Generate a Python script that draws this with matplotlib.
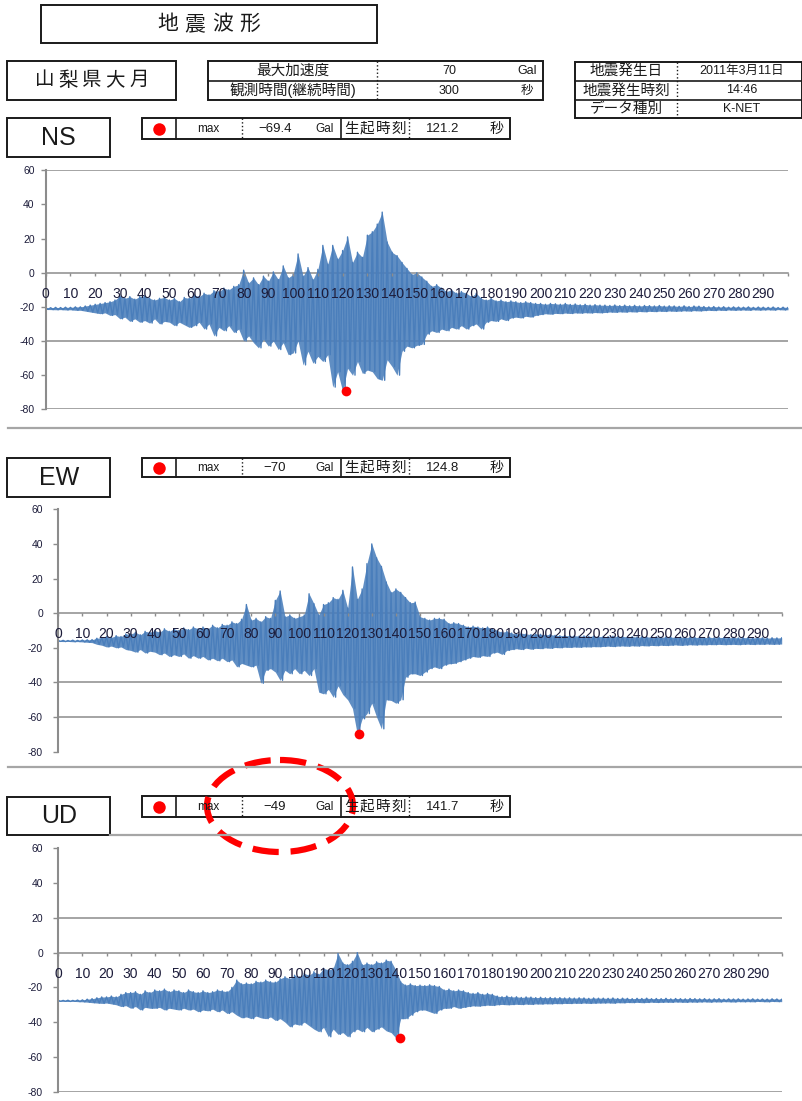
import numpy as np
import matplotlib
matplotlib.use("Agg")
import matplotlib.pyplot as plt
from matplotlib.patches import Rectangle, Ellipse

plt.rcParams['font.family'] = ['Liberation Sans', 'Noto Sans CJK JP', 'DejaVu Sans']

# ---- text content ----
title = "地震波形"
station = "山梨県大月"
info_labels = ["最大加速度", "観測時間(継続時間)"]
info_values = ["70", "300"]
info_units = ["Gal", "秒"]
quake_labels = ["地震発生日", "地震発生時刻", "データ種別"]
quake_values = ["2011年3月11日", "14:46", "K-NET"]
channels = ["NS", "EW", "UD"]
peak_values = [-69.4, -70, -49]
peak_times = [121.2, 124.8, 141.7]
time_ticks = list(range(0, 301, 10))
acc_ticks = [60, 40, 20, 0, -20, -40, -60, -80]

# ---- waveform peaks, one pair every 2 s (0..300 s) ----
ns_hi = [-20.5, -20.5, -20.3, -20.4, -20.2, -20.3, -20.0, -20.0, -19.5, -19.0,
         -18.5, -18.0, -17.5, -17.0, -16.0, -13.5, -15.0, -14.0, -15.5, -14.0,
         -13.5, -15.0, -16.0, -15.0, -14.5, -16.0, -15.0, -17.0, -14.5, -15.0,
         -13.0, -14.0, -12.0, -13.0, -10.5, -11.0, -9.0, -10.0, -8.0, -7.0,
         1.5, -6.0, -3.0, -7.0, -2.0, -5.0, 0.5, -4.0, 4.0, -3.0,
         -1.0, 11.0, -2.0, 3.0, -4.0, 2.0, 16.0, 5.0, 16.0, 8.0,
         13.0, 21.0, 6.0, 12.0, 9.0, 22.0, 24.0, 28.5, 35.5, 18.0,
         12.0, 10.0, 6.0, 2.5, -1.0, 0.0, -2.5, -5.0, -8.0, -7.0,
         -9.0, -11.0, -10.0, -12.0, -11.0, -12.0, -14.0, -12.0, -15.0, -16.0,
         -15.0, -16.5, -16.0, -17.0, -16.5, -17.0, -17.5, -17.0, -17.5, -18.0,
         -18.0, -18.5, -18.0, -18.2, -18.5, -18.0, -18.6, -18.3, -18.8, -18.5,
         -19.0, -18.7, -19.0, -19.0, -19.2, -18.9, -19.3, -19.0, -19.4, -19.1,
         -19.5, -19.2, -19.3, -19.5, -19.2, -19.6, -19.4, -19.5, -19.7, -19.4,
         -19.8, -19.5, -19.6, -19.8, -20.0, -19.8, -20.1, -19.9, -20.2, -20.0,
         -20.1, -20.2, -20.0, -20.3, -20.1, -20.2, -20.3, -20.1, -20.4, -20.2,
         -20.3]
ns_lo = [-21.5, -21.6, -21.7, -21.6, -21.8, -21.7, -22.0, -22.0, -22.5, -23.0,
         -23.5, -24.0, -23.5, -25.0, -24.5, -27.0, -26.0, -28.5, -27.0, -29.0,
         -28.0, -29.5, -27.0, -30.0, -28.5, -29.0, -31.0, -29.0, -30.5, -32.0,
         -31.0, -29.0, -33.0, -30.0, -37.0, -32.0, -34.0, -31.0, -35.0, -33.0,
         -40.0, -37.0, -41.0, -44.0, -39.0, -43.0, -40.0, -45.0, -41.0, -48.0,
         -47.0, -40.0, -54.0, -46.0, -53.0, -49.0, -52.0, -48.0, -67.0, -58.0,
         -69.4, -56.0, -60.0, -52.0, -59.0, -57.0, -58.0, -62.0, -63.0, -51.0,
         -55.0, -60.0, -46.0, -43.0, -44.0, -42.5, -42.0, -36.0, -34.0, -35.0,
         -33.0, -34.0, -32.0, -33.0, -31.0, -33.0, -31.0, -30.0, -33.0, -29.0,
         -28.0, -28.5, -27.0, -28.0, -26.5, -26.0, -26.5, -25.5, -26.0, -25.0,
         -24.5, -24.0, -24.3, -23.8, -24.0, -23.6, -23.9, -23.5, -23.7, -23.4,
         -23.6, -23.3, -23.5, -23.3, -23.0, -23.2, -22.9, -23.1, -22.8, -23.0,
         -22.7, -22.9, -22.6, -22.8, -22.5, -22.7, -22.4, -22.6, -22.5, -22.3,
         -22.5, -22.2, -22.4, -22.2, -22.0, -22.2, -21.9, -22.1, -21.8, -22.0,
         -21.9, -21.8, -22.0, -21.7, -21.9, -21.8, -21.7, -21.9, -21.6, -21.8,
         -21.7]

ew_hi = [-15.8, -15.7, -15.8, -15.6, -15.7, -15.5, -15.4, -15.3, -14.5, -14.0,
         -13.5, -14.0, -13.0, -13.5, -12.0, -12.0, -11.0, -12.5, -10.5, -11.0,
         -10.0, -11.0, -9.0, -10.5, -9.0, -10.0, -8.5, -9.5, -8.0, -9.0,
         -8.0, -9.0, -7.0, -8.5, -6.5, -7.0, -5.0, -6.0, -3.5, 5.0,
         -4.0, -3.0, -5.0, -2.0, -3.0, 7.4, 12.8, -2.0, -1.0, -3.0,
         -2.0, -1.0, 11.2, 5.5, -1.0, 5.0, 6.0, 9.0, 8.0, 13.2,
         3.0, 26.7, 8.0, 14.0, 28.6, 40.0, 32.0, 27.0, 18.0, 12.0,
         14.0, 12.0, 9.0, 6.0, 6.4, -2.0, -3.0, -4.0, -3.0, -3.0,
         -3.5, -6.0, -5.5, -6.0, -7.0, -8.0, -7.5, -8.0, -8.5, -8.0,
         -9.0, -10.0, -11.0, -10.5, -11.5, -12.0, -11.5, -12.0, -12.3, -12.0,
         -12.2, -12.5, -12.3, -12.8, -13.0, -12.8, -13.2, -13.0, -13.3, -13.1,
         -13.4, -13.2, -13.5, -13.4, -13.5, -13.3, -13.6, -13.4, -13.7, -13.5,
         -13.8, -13.6, -13.7, -13.8, -13.6, -13.9, -13.7, -13.8, -14.0, -13.8,
         -14.0, -13.9, -14.0, -14.0, -14.1, -13.9, -14.2, -14.0, -14.1, -14.2,
         -14.0, -14.3, -14.1, -14.2, -14.3, -14.1, -14.2, -14.4, -14.2, -14.3,
         -14.2]
ew_lo = [-16.3, -16.4, -16.3, -16.5, -16.4, -16.6, -16.8, -17.0, -18.0, -18.5,
         -19.5, -19.0, -20.0, -19.5, -21.0, -21.5, -22.5, -21.0, -23.0, -22.0,
         -22.5, -24.0, -23.0, -25.0, -24.0, -25.0, -23.5, -26.0, -24.5, -26.0,
         -25.0, -27.0, -26.0, -27.5, -26.0, -28.0, -27.0, -31.0, -29.0, -30.0,
         -31.0, -30.0, -40.5, -33.0, -32.0, -34.0, -38.8, -33.0, -35.0, -32.0,
         -35.0, -33.0, -36.0, -32.0, -45.6, -46.6, -44.0, -48.5, -42.0, -47.0,
         -50.0, -55.0, -70.0, -61.0, -58.0, -52.0, -60.0, -66.8, -50.0, -50.4,
         -52.0, -50.0, -37.0, -35.0, -35.0, -36.0, -34.0, -32.0, -31.0, -32.0,
         -30.0, -29.2, -29.0, -28.0, -27.0, -26.0, -25.0, -25.5, -24.5, -25.0,
         -23.0, -22.5, -23.8, -21.5, -21.0, -20.5, -21.0, -20.2, -20.8, -20.3,
         -20.5, -20.0, -20.3, -19.8, -20.0, -19.6, -19.8, -19.5, -19.7, -19.4,
         -19.5, -19.3, -19.4, -19.2, -19.0, -19.3, -19.0, -18.9, -19.1, -18.8,
         -19.0, -18.7, -18.9, -18.6, -18.8, -18.5, -18.7, -18.5, -18.3, -18.6,
         -18.4, -18.2, -18.4, -18.2, -18.3, -18.1, -18.2, -18.0, -18.2, -18.1,
         -18.0, -18.2, -18.0, -17.9, -18.1, -17.9, -18.0, -17.8, -18.0, -17.9,
         -17.8]

ud_hi = [-27.5, -27.5, -27.4, -27.5, -27.3, -27.2, -26.8, -26.5, -26.0, -25.5,
         -25.5, -25.0, -25.5, -24.0, -23.0, -23.0, -22.5, -24.0, -22.0, -23.0,
         -21.5, -22.0, -21.0, -22.5, -21.5, -22.0, -23.0, -21.5, -22.5, -23.0,
         -22.0, -23.0, -22.5, -21.5, -22.0, -22.5, -20.0, -15.8, -18.0, -17.5,
         -18.0, -16.5, -17.0, -15.8, -16.8, -17.0, -15.0, -13.9, -15.0, -13.0,
         -14.0, -12.0, -13.0, -11.0, -12.5, -9.0, -10.0, -9.0, -0.5, -6.0,
         -7.0, -5.0, 0.0, -7.0, -6.0, -7.0, -5.3, -6.0, -4.3, -5.0,
         -10.0, -16.8, -18.7, -18.0, -19.0, -18.7, -19.0, -18.5, -19.0, -19.5,
         -21.5, -21.0, -22.0, -21.5, -22.0, -23.0, -23.5, -23.0, -24.0, -23.5,
         -24.0, -25.0, -25.4, -25.0, -25.5, -25.4, -25.8, -25.5, -25.6, -25.9,
         -25.7, -26.0, -25.8, -26.0, -25.9, -26.1, -26.0, -26.2, -26.0, -26.1,
         -26.3, -26.1, -26.2, -26.2, -26.3, -26.1, -26.4, -26.2, -26.3, -26.5,
         -26.3, -26.4, -26.2, -26.5, -26.4, -26.5, -26.3, -26.6, -26.4, -26.5,
         -26.6, -26.4, -26.5, -26.6, -26.5, -26.7, -26.6, -26.5, -26.8, -26.6,
         -26.7, -26.6, -26.8, -26.7, -26.6, -26.8, -26.7, -26.8, -26.6, -26.7,
         -26.8]
ud_lo = [-28.0, -28.0, -28.1, -28.0, -28.2, -28.3, -28.5, -28.8, -29.0, -29.2,
         -29.0, -29.5, -30.0, -31.0, -30.5, -32.0, -31.0, -33.0, -31.5, -32.0,
         -32.0, -31.5, -33.0, -32.0, -32.5, -33.0, -32.0, -33.0, -32.5, -34.0,
         -33.0, -33.5, -32.5, -34.0, -33.0, -35.0, -34.0, -36.0, -37.5, -37.0,
         -38.0, -36.5, -37.5, -38.0, -37.0, -39.0, -38.0, -40.0, -42.7, -41.0,
         -41.7, -40.0, -42.0, -44.0, -45.5, -43.0, -48.4, -44.0, -47.0, -46.0,
         -48.4, -45.5, -44.0, -45.5, -43.0, -45.5, -44.0, -42.7, -45.0, -46.0,
         -49.0, -38.0, -38.0, -36.0, -34.0, -33.0, -33.0, -34.0, -35.0, -33.0,
         -32.0, -32.0, -31.0, -32.0, -31.5, -31.0, -30.6, -30.8, -30.5, -30.2,
         -30.4, -30.0, -29.8, -30.0, -29.9, -29.7, -29.9, -29.6, -29.8, -29.5,
         -29.6, -29.4, -29.5, -29.3, -29.4, -29.2, -29.3, -29.1, -29.2, -29.0,
         -29.2, -29.1, -29.0, -29.0, -28.9, -29.1, -28.8, -28.9, -28.7, -28.8,
         -28.6, -28.8, -28.7, -28.5, -28.7, -28.6, -28.5, -28.6, -28.4, -28.5,
         -28.6, -28.4, -28.5, -28.4, -28.3, -28.5, -28.3, -28.4, -28.2, -28.3,
         -28.4, -28.2, -28.3, -28.2, -28.3, -28.1, -28.2, -28.3, -28.1, -28.2,
         -28.2]

W, H = 803, 1101
fig = plt.figure(figsize=(W / 100, H / 100), dpi=100)

blue = '#4a7ebb'
gray = '#8c8c8c'
ink = '#1a1a1a'

# plot areas in pixels: left, top, right, bottom
panel_px = [(45.7, 170.3, 788, 409.3),
            (58.3, 509.3, 781.7, 751.7),
            (58.3, 848.3, 781.7, 1091.7)]
grid_vals = [[60, -40, -80], [-40, -60], [20, -80]]
ypad = [4.5, 7.5, 7.5]
waves = [(ns_hi, ns_lo), (ew_hi, ew_lo), (ud_hi, ud_lo)]

for k in range(3):
    l, t, r, b = panel_px[k]
    ax = fig.add_axes([l / W, 1 - b / H, (r - l) / W, (b - t) / H])
    ax.set_facecolor('none')
    ax.set_axisbelow(False)  # tick labels sit on top of the trace
    hi, lo = waves[k]
    tt = np.arange(len(hi)) * 2.0
    x = np.column_stack([tt, tt + 1]).ravel()
    y = np.column_stack([hi, lo]).ravel()
    # solid body between the peaks, then the trace itself for the spikes
    ax.fill_between(tt, lo, hi, color=blue, lw=0, alpha=0.88, zorder=1.6)
    ax.plot(x, y, color=blue, lw=1.0, zorder=1.8)
    ax.plot([peak_times[k]], [peak_values[k]], 'o', color='#ff0000', ms=7, mec='none', zorder=5)
    for g in grid_vals[k]:
        ax.axhline(g, color=gray, lw=1.1, zorder=1)
    ax.set_xlim(0, 300)
    ax.set_ylim(-80, 60)
    ax.spines['top'].set_visible(False)
    ax.spines['right'].set_visible(False)
    ax.spines['bottom'].set_position(('data', 0))
    ax.spines['bottom'].set_color(gray)
    ax.spines['bottom'].set_linewidth(1.1)
    ax.spines['bottom'].set_zorder(1)
    ax.spines['left'].set_color(gray)
    ax.spines['left'].set_linewidth(1.5)
    ax.set_xticks(time_ticks)
    ax.set_xticklabels([str(v) if v < 300 else '' for v in time_ticks])
    ax.set_yticks(acc_ticks)
    ax.set_yticklabels([str(v) for v in acc_ticks])
    ax.tick_params(axis='x', direction='out', length=2.5, width=1, color=gray,
                   pad=7.5, labelsize=10, labelcolor='#1c1c3a')
    ax.tick_params(axis='y', direction='out', length=3.5, width=1, color=gray,
                   pad=ypad[k], labelsize=7.5, labelcolor='#1c1c3a')

# ---- header, boxes and annotation, in pixel coordinates ----
ov = fig.add_axes([0, 0, 1, 1])
ov.set_xlim(0, W)
ov.set_ylim(H, 0)
ov.axis('off')
ov.patch.set_visible(False)


def box(x0, y0, x1, y1, lw=1.4):
    ov.add_patch(Rectangle((x0, y0), x1 - x0, y1 - y0, fill=False, ec=ink, lw=lw))


def spaced(s, cx, cy, pitch, size):
    n = len(s)
    for i, ch in enumerate(s):
        ov.text(cx + (i - (n - 1) / 2) * pitch, cy, ch, ha='center', va='center',
                fontsize=size, color=ink)


box(40.7, 5, 376.7, 43.3)
spaced(title, 208.7, 24.5, 27.5, 15)

box(7.3, 61, 175.7, 100)
spaced(station, 91.5, 80.5, 23.6, 14)

# info table
box(208.3, 61, 542.7, 100)
ov.plot([208.3, 542.7], [81, 81], color=ink, lw=1.2)
ov.plot([376.7, 376.7], [61, 100], color=ink, lw=1, ls=':')
for i, ry in enumerate([71, 90.5]):
    ov.text(292.5, ry, info_labels[i], ha='center', va='center', fontsize=10.5, color=ink)
    ov.text(449, ry, info_values[i], ha='center', va='center', fontsize=9, color=ink)
    ov.text(527, ry, info_units[i], ha='center', va='center', fontsize=9, color=ink)

# earthquake table
box(575, 61.7, 802, 118.3)
for ry in [80.5, 100]:
    ov.plot([575, 802], [ry, ry], color=ink, lw=1.2)
ov.plot([676.7, 676.7], [61.7, 118.3], color=ink, lw=1, ls=':')
for i, ry in enumerate([71, 90.3, 109.3]):
    ov.text(626.5, ry, quake_labels[i], ha='center', va='center', fontsize=10.5, color=ink)
    ov.text(741.7, ry, quake_values[i], ha='center', va='center', fontsize=9, color=ink)

# channel labels and peak legends
label_y = [(118.3, 156.7), (458.3, 496.7), (796.7, 835)]
legend_y = [(118.3, 139.3), (458.3, 477.3), (796.3, 817.3)]
for k in range(3):
    y0, y1 = label_y[k]
    box(7.3, y0, 110, y1)
    ov.text(58.7, (y0 + y1) / 2 + 0.5, channels[k], ha='center', va='center',
            fontsize=18, color=ink)
    y0, y1 = legend_y[k]
    ym = (y0 + y1) / 2
    box(141.7, y0, 510, y1)
    for xv in [175.7, 340.7]:
        ov.plot([xv, xv], [y0, y1], color=ink, lw=1.2)
    for xv in [241.7, 409.3]:
        ov.plot([xv, xv], [y0, y1], color=ink, lw=1, ls=':')
    ov.plot([159.3], [ym], 'o', color='#ff0000', ms=9, mec='none')
    ov.text(208.3, ym, 'max', ha='center', va='center', fontsize=8.5, color=ink)
    ov.text(275, ym, f"{peak_values[k]:g}".replace('-', '\u2212'), ha='center',
            va='center', fontsize=9.5, color=ink)
    ov.text(325, ym, 'Gal', ha='center', va='center', fontsize=8.5, color=ink)
    spaced("生起時刻", 375, ym, 16, 10.5)
    ov.text(443, ym, f"{peak_times[k]:.1f}", ha='center', va='center', fontsize=9.5, color=ink)
    ov.text(496.7, ym, '秒', ha='center', va='center', fontsize=10, color=ink)

# panel separators
ov.plot([8, 803], [427.5, 427.5], color='#a6a6a6', lw=1.6)
ov.plot([8, 803], [766.7, 766.7], color='#a6a6a6', lw=1.6)
ov.plot([110, 803], [835, 835], color='#a6a6a6', lw=1.6)

# red dashed highlight
ov.add_patch(Ellipse((280, 806), 146, 92, fill=False, ec='#ff0000', lw=4.5,
                     ls=(0, (4.2, 1.9))))

fig.savefig('out.png', dpi=100)
